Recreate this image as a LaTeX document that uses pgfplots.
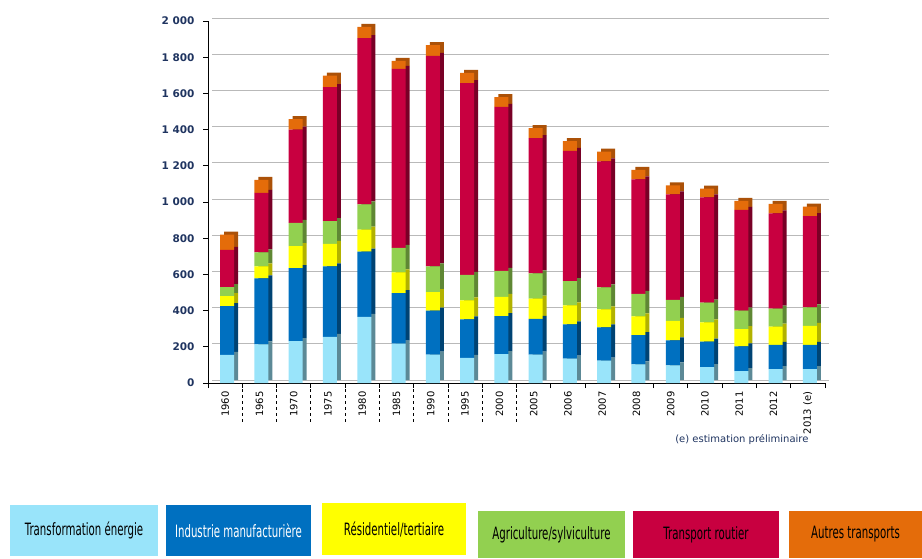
\documentclass[border=0pt]{standalone}
\usepackage{fontspec}
\setmainfont{DejaVu Sans}
\newfontfamily\legfont[FakeStretch=0.6]{DejaVu Sans}
\usepackage{pgfplots}
\usepackage{pgfplotstable}
\pgfplotsset{compat=1.18}
\definecolor{cLB}{RGB}{153,228,250}
\definecolor{cBL}{RGB}{0,112,192}
\definecolor{cYE}{RGB}{255,255,0}
\definecolor{cGR}{RGB}{146,208,80}
\definecolor{cRD}{RGB}{200,0,64}
\definecolor{cOR}{RGB}{228,108,10}
\definecolor{tickc}{RGB}{31,52,96}
\pgfplotstableread{
x lb bl ye gr rd or
0 155 270 55 50 205 85
1 213 365 66 78 328 72
2 231 404 121 129 515 58
3 255 389 124 126 741 63
4 365 361 122 139 919 61
5 218 278 115 135 989 45
6 157 243 102 142 1163 60
7 139 213 105 141 1059 56
8 159 211 106 144 905 55
9 157 197 112 139 748 55
10 134 190 105 134 719 55
11 123 185 99 122 696 53
12 103 162 103 125 632 52
13 98 138 107 116 583 50
14 88 140 107 109 582 48
15 66 137 95 102 556 50
16 77 133 101 100 526 52
17 77 133 105 103 504 52
}\data
\pgfplotsset{base/.style={scale only axis, width=617pt, height=362pt,
  xmin=-0.5, xmax=17.5, ymin=0, ymax=2000, ybar stacked, bar width=14pt,
  bar shift=2pt, anchor=south west, clip=false}}
\begin{document}
\begin{tikzpicture}
\useasboundingbox (0,0) rectangle (922pt,558pt);
% back wall: grid and side faces
\begin{axis}[base, at={(212pt,178pt)},
  axis line style={draw=none}, xtick=\empty,
  ytick={0,200,...,2000}, yticklabels=\empty, major tick length=0pt,
  ymajorgrids, grid style={draw={rgb,255:red,185;green,185;blue,185}, line width=0.9pt}]
\addplot[fill=cLB!60!black, draw=none] table[x=x,y=lb]{\data};
\addplot[fill=cBL!60!black, draw=none] table[x=x,y=bl]{\data};
\addplot[fill=cYE!70!black, draw=none] table[x=x,y=ye]{\data};
\addplot[fill=cGR!65!black, draw=none] table[x=x,y=gr]{\data};
\addplot[fill=cRD!60!black, draw=none] table[x=x,y=rd]{\data};
\addplot[fill=cOR!75!black, draw=none] table[x=x,y=or]{\data};
\end{axis}
% front faces
\begin{axis}[base, at={(208pt,175pt)},
  axis x line*=bottom, axis y line*=left,
  axis line style={-, black, line width=0.9pt},
  ytick={0,200,...,2000},
  /pgf/number format/assume math mode=true,
  /pgf/number format/1000 sep={\ },
  yticklabel style={font=\bfseries\fontsize{10.5}{11}\selectfont, text=tickc, xshift=-5pt},
  ytick style={black, line width=0.8pt},
  tick align=outside, major tick length=5pt,
  xtick={0,...,17},
  xticklabels={1960,1965,1970,1975,1980,1985,1990,1995,2000,2005,2006,2007,2008,2009,2010,2011,2012,2013 (e)},
  xticklabel style={rotate=90, anchor=east, font=\fontsize{10}{10}\selectfont, text=black},
  major x tick style={draw=none},
  minor xtick={-0.5,0.5,...,17.5},
  minor x tick style={black, line width=0.8pt}, minor tick length=5pt]
\addplot[fill=cLB, draw=none] table[x=x,y=lb]{\data};
\addplot[fill=cBL, draw=none] table[x=x,y=bl]{\data};
\addplot[fill=cYE, draw=none] table[x=x,y=ye]{\data};
\addplot[fill=cGR, draw=none] table[x=x,y=gr]{\data};
\addplot[fill=cRD, draw=none] table[x=x,y=rd]{\data};
\addplot[fill=cOR, draw=none] table[x=x,y=or]{\data};
\pgfplotsinvokeforeach{0.5,1.5,2.5,3.5,4.5,5.5,6.5,7.5,8.5}{\draw[dashed, black, line width=0.7pt] (axis cs:#1,0) -- (axis cs:#1,-232);}
\end{axis}
\node[anchor=east, font=\fontsize{10}{10}\selectfont, text=tickc] at (812pt,118pt) {(e) estimation préliminaire};
% legend
\begin{scope}[every node/.style={inner sep=0pt, font=\legfont\fontsize{17}{17}\selectfont}]
\node[fill=cLB, minimum width=148pt, minimum height=51pt, text=black] at (84pt,27.5pt) {Transformation énergie};
\node[fill=cBL, minimum width=145pt, minimum height=51pt, text=white] at (238.5pt,27.5pt) {Industrie manufacturière};
\node[fill=cYE, minimum width=144pt, minimum height=52pt, text=black] at (394pt,29pt) {Résidentiel/tertiaire};
\node[fill=cGR, minimum width=147pt, minimum height=47pt, text=black] at (551.5pt,23.5pt) {Agriculture/sylviculture};
\node[fill=cRD, minimum width=146pt, minimum height=47pt, text=black] at (706pt,23.5pt) {Transport routier};
\node[fill=cOR, minimum width=133pt, minimum height=47pt, text=black] at (855.5pt,23.5pt) {Autres transports};
\end{scope}
\end{tikzpicture}
\end{document}
